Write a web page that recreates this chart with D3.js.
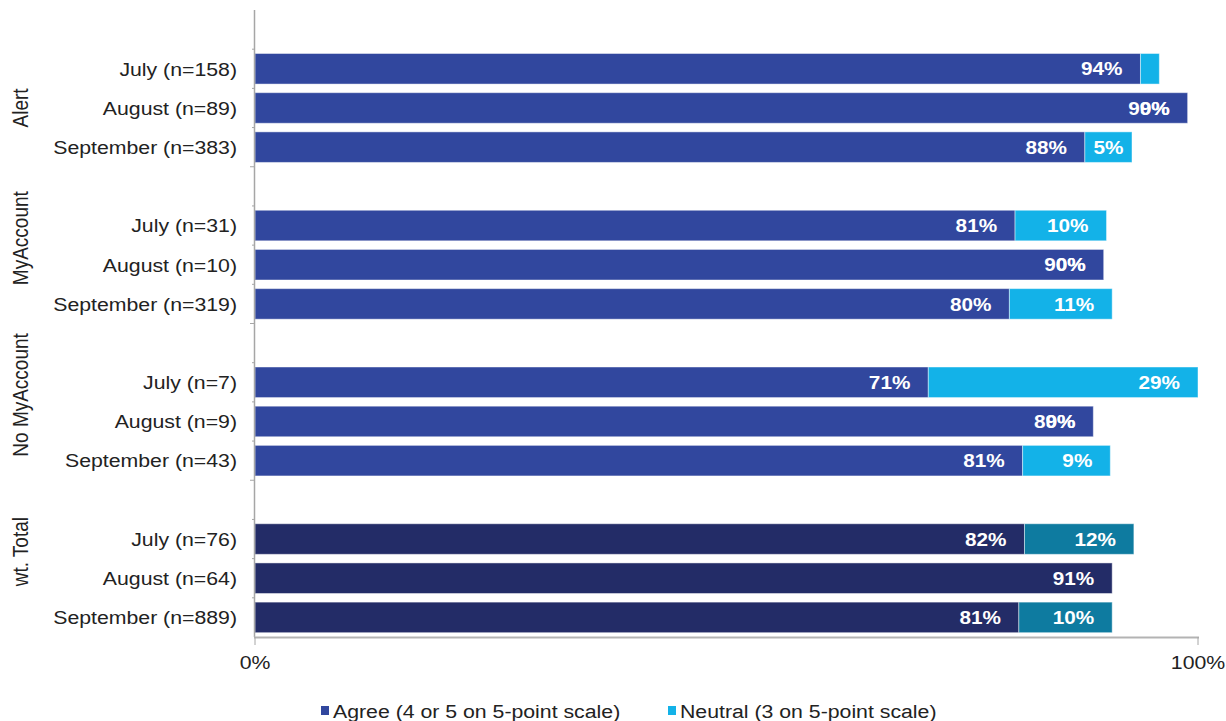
<!DOCTYPE html>
<html>
<head>
<meta charset="utf-8">
<script src="https://cdn.jsdelivr.net/npm/d3@7"></script>
<style>
  html, body { margin: 0; padding: 0; background: #ffffff; }
  svg { display: block; font-family: "Liberation Sans", Arial, sans-serif; }
</style>
</head>
<body>
<svg id="chart" width="1226" height="721"></svg>
<script>
// Survey groups and the monthly rows inside each group
const groups = ["Alert", "MyAccount", "No MyAccount", "wt. Total"];
const rowLabels = [
  ["July (n=158)", "August (n=89)", "September (n=383)"],
  ["July (n=31)", "August (n=10)", "September (n=319)"],
  ["July (n=7)", "August (n=9)", "September (n=43)"],
  ["July (n=76)", "August (n=64)", "September (n=889)"]
];

// Share of respondents (%) per group and month
const agree = [
  [93.9, 98.9, 88.0],
  [80.6, 90.0, 80.0],
  [71.4, 88.9, 81.4],
  [81.6, 90.9, 81.0]
];
const neutral = [
  [2.0, 0, 5.0],
  [9.7, 0, 10.9],
  [28.6, 0, 9.3],
  [11.6, null, 9.9]
];
const neutralLabelShown = [
  [false, true, true],
  [true, true, true],
  [true, true, true],
  [true, false, true]
];

const seriesNames = ["Agree (4 or 5 on 5-point scale)", "Neutral (3 on 5-point scale)"];
const xTickLabels = ["0%", "100%"];
const xTicks = [0, 100];

const colors = {
  agree: "#31479E",
  neutral: "#13B2E8",
  agreeTotal: "#232C67",
  neutralTotal: "#0E7BA0"
};

const svg = d3.select("#chart");
const plotLeft = 255, plotRight = 1198, plotTop = 10, plotBottom = 637;
const stretch = 1.12;      // horizontal text widening
const textColor = "#222222";

// Horizontal text drawn through a widened local frame
function hText(parent, px, py, str, anchor) {
  const g = parent.append("g").attr("transform", `translate(${px},${py}) scale(${stretch},1)`);
  return g.append("text").attr("x", 0).attr("y", 0).attr("dy", "0.36em")
    .attr("text-anchor", anchor).text(str);
}

// Row list: a blank row opens the chart and separates groups
const rows = [{ id: "blank-0", blank: true }];
groups.forEach((g, gi) => {
  if (gi > 0) rows.push({ id: "blank-" + gi, blank: true, group: gi });
  rowLabels[gi].forEach((lab, mi) => {
    rows.push({ id: gi + "-" + mi, group: gi, month: mi, label: lab,
      agree: agree[gi][mi], neutral: neutral[gi][mi], showN: neutralLabelShown[gi][mi] });
  });
});

const x = d3.scaleLinear().domain([0, 100]).range([plotLeft, plotRight]);
const y = d3.scaleBand().domain(rows.map(r => r.id)).range([plotTop, plotBottom])
  .paddingInner(0.22).paddingOuter(0.11);
const step = y.step();

const dataRows = rows.filter(r => !r.blank);

// Bars
const barG = svg.append("g");
dataRows.forEach(r => {
  const total = r.group === 3;
  barG.append("rect")
    .attr("x", x(0)).attr("y", y(r.id))
    .attr("width", x(r.agree) - x(0)).attr("height", y.bandwidth())
    .attr("fill", total ? colors.agreeTotal : colors.agree)
    .attr("stroke", "rgba(255,255,255,0.45)").attr("stroke-width", 1);
  if (r.neutral != null && r.neutral > 0) {
    barG.append("rect")
      .attr("x", x(r.agree)).attr("y", y(r.id))
      .attr("width", x(r.agree + r.neutral) - x(r.agree)).attr("height", y.bandwidth())
      .attr("fill", total ? colors.neutralTotal : colors.neutral)
      .attr("stroke", "rgba(255,255,255,0.45)").attr("stroke-width", 1);
  }
});

// Value labels placed at the inside end of each segment
const fmt = v => Math.round(v) + "%";
const pad = 18;
const labelG = svg.append("g")
  .attr("font-size", 18.5).attr("font-weight", "bold").attr("fill", "#ffffff");
function segLabel(x0, x1, value, cy) {
  const probe = labelG.append("text").text(fmt(value));
  const w = probe.node().getComputedTextLength() * stretch;
  probe.remove();
  const segW = x1 - x0;
  if (segW > 0 && segW < w + 2 * pad) {
    hText(labelG, (x0 + x1) / 2, cy, fmt(value), "middle");
  } else {
    hText(labelG, x1 - pad, cy, fmt(value), "end");
  }
}
dataRows.forEach(r => {
  const cy = y(r.id) + y.bandwidth() / 2;
  segLabel(x(0), x(r.agree), r.agree, cy);
  if (r.neutral != null && r.showN) {
    segLabel(x(r.agree), x(r.agree + r.neutral), r.neutral, cy);
  }
});

// Category axis
const axisColor = "#a6a6a6";
svg.append("line")
  .attr("x1", plotLeft - 0.5).attr("x2", plotLeft - 0.5)
  .attr("y1", plotTop).attr("y2", plotBottom)
  .attr("stroke", axisColor).attr("stroke-width", 1.5);
rows.forEach((r, i) => {
  if (i === 0) return;
  const yy = y(r.id) - step * y.paddingInner() / 2;
  const major = r.blank;
  svg.append("line")
    .attr("x1", plotLeft - (major ? 5 : 3)).attr("x2", plotLeft)
    .attr("y1", yy).attr("y2", yy)
    .attr("stroke", axisColor).attr("stroke-width", 1);
});

const catG = svg.append("g").attr("font-size", 19).attr("fill", textColor);
dataRows.forEach(d => {
  hText(catG, 237, y(d.id) + y.bandwidth() / 2, d.label, "end");
});

// Group labels, rotated, centred on each group's span
svg.append("g").attr("font-size", 19).attr("fill", textColor)
  .selectAll("text").data(groups).join("text")
  .attr("transform", (g, gi) => {
    const ids = rows.filter(r => r.group === gi).map(r => r.id);
    const y0 = y(ids[0]);
    const y1 = y(ids[ids.length - 1]) + y.bandwidth();
    const cy = gi === 0 ? (y0 + y1) / 2 : (y0 - step * 0.15 + y1) / 2 - 4;
    return `translate(28,${cy}) rotate(-90) scale(1,${stretch})`;
  })
  .attr("text-anchor", "middle")
  .text(g => g);

// Value axis
svg.append("line")
  .attr("x1", plotLeft - 1).attr("x2", plotRight + 1)
  .attr("y1", plotBottom + 0.5).attr("y2", plotBottom + 0.5)
  .attr("stroke", "#b3b3b3").attr("stroke-width", 2);
const xg = svg.append("g").attr("font-size", 19).attr("fill", textColor);
xTicks.forEach((t, i) => {
  xg.append("line")
    .attr("x1", x(t)).attr("x2", x(t))
    .attr("y1", plotBottom).attr("y2", plotBottom + 8)
    .attr("stroke", axisColor).attr("stroke-width", 1);
  hText(xg, x(t), 662, xTickLabels[i], "middle");
});

// Legend
const legend = svg.append("g").attr("font-size", 19).attr("fill", textColor);
const legendX = [321, 668];
const legendColors = [colors.agree, colors.neutral];
seriesNames.forEach((name, i) => {
  legend.append("rect")
    .attr("x", legendX[i]).attr("y", 706).attr("width", 8).attr("height", 9)
    .attr("fill", legendColors[i]);
  hText(legend, legendX[i] + 12, 711, name, "start");
});
</script>
</body>
</html>
